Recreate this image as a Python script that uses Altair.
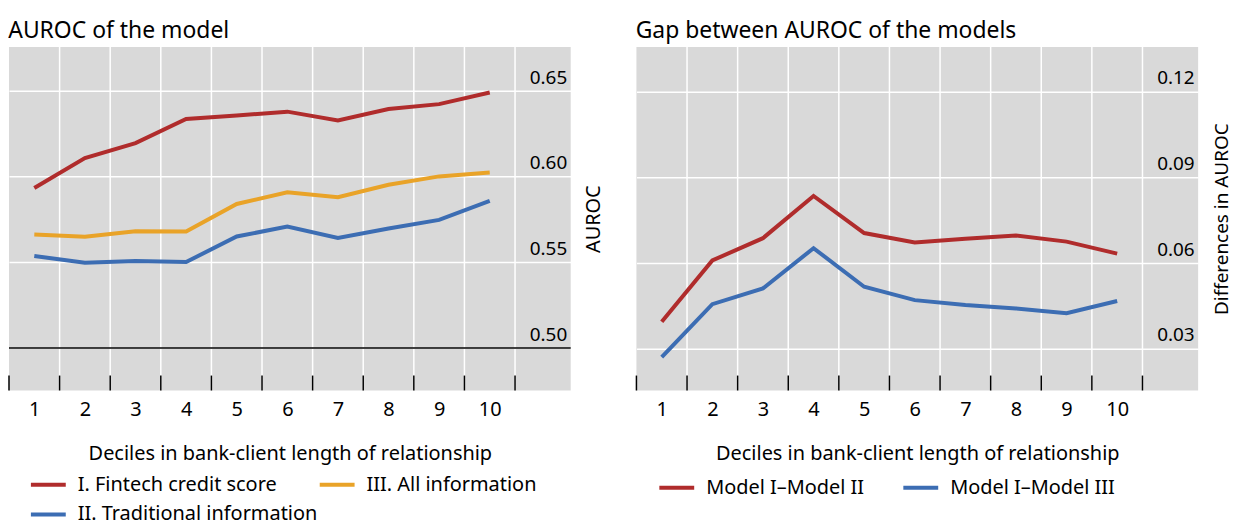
import altair as alt
import pandas as pd

deciles = list(range(1, 11))
fintech = [0.5934, 0.6109, 0.6196, 0.6337, 0.6357, 0.6380, 0.6329, 0.6395, 0.6424, 0.6492]
allinfo = [0.5663, 0.5649, 0.5682, 0.5680, 0.5841, 0.5909, 0.5880, 0.5953, 0.6002, 0.6025]
traditional = [0.5537, 0.5498, 0.5508, 0.5502, 0.5651, 0.5709, 0.5643, 0.5698, 0.5748, 0.5859]
gap_m2 = [0.0394, 0.0609, 0.0687, 0.0835, 0.0705, 0.0672, 0.0685, 0.0696, 0.0675, 0.0633]
gap_m3 = [0.0270, 0.0456, 0.0511, 0.0652, 0.0517, 0.0470, 0.0453, 0.0441, 0.0424, 0.0467]
left_ticks = [0.50, 0.55, 0.60, 0.65]
right_ticks = [0.03, 0.06, 0.09, 0.12]
left_series = ["I. Fintech credit score", "II. Traditional information", "III. All information"]
right_series = ["Model I\u2013Model II", "Model I\u2013Model III"]
x_title = "Deciles in bank-client length of relationship"

RED, YEL, BLUE, GREY = "#B02C2C", "#E9A328", "#3C6DB3", "#D9D9D9"
FONT = "Noto Sans"
W, H = 564, 345

left_df = pd.DataFrame({
    "decile": deciles * 3,
    "value": fintech + traditional + allinfo,
    "series": [left_series[0]] * 10 + [left_series[1]] * 10 + [left_series[2]] * 10,
})
right_df = pd.DataFrame({
    "decile": deciles * 2,
    "value": gap_m2 + gap_m3,
    "series": [right_series[0]] * 10 + [right_series[1]] * 10,
})
bounds = [0.5] + [d + 0.5 for d in deciles]
bounds_df = pd.DataFrame({"decile": bounds})
grid_df = pd.DataFrame({"decile": bounds[1:]})

xscale = alt.Scale(domain=[0.5, 11.6], nice=False, zero=False)


def panel(df, order, colors, ydomain, yticks, ytitle, ytitle_size, title, leg_x, leg_y, col_pad,
          baseline=None):
    x_enc = alt.X(
        "decile:Q", scale=xscale,
        axis=alt.Axis(values=deciles, title=x_title, grid=False, ticks=False, domain=False,
                      labelPadding=9, labelFontSize=20, labelFlush=False, labelColor="black",
                      titleFontSize=20, titleFontWeight="normal", titleColor="black",
                      titleY=63, titleBaseline="middle"),
    )
    y_enc = alt.Y(
        "value:Q", scale=alt.Scale(domain=ydomain, nice=False, zero=False),
        axis=alt.Axis(orient="right", values=yticks, format=".2f", grid=True, gridColor="white",
                      gridWidth=1.5, domain=False, ticks=False, labelAlign="right", labelPadding=-4,
                      labelBaseline="bottom", labelOffset=-4, labelFontSize=19, labelColor="black",
                      title=ytitle, titleAngle=270, titleFontWeight="normal",
                      titleFontSize=ytitle_size, titleColor="black", titleX=23, titleY=H / 2,
                      titleAlign="center", titleBaseline="middle"),
    )
    vgrid = alt.Chart(grid_df).mark_rule(color="white", strokeWidth=1.5).encode(x=x_enc)
    ticks = alt.Chart(bounds_df).mark_rule(color="black", strokeWidth=1.5).encode(
        x=x_enc, y=alt.value(H - 15), y2=alt.value(H))
    lines = alt.Chart(df).mark_line(strokeWidth=4).encode(
        x=x_enc, y=y_enc,
        color=alt.Color("series:N", scale=alt.Scale(domain=order, range=colors),
                        legend=alt.Legend(title=None, orient="none", legendX=leg_x, legendY=leg_y,
                                          columns=2, columnPadding=col_pad, rowPadding=-3,
                                          symbolType="stroke", symbolSize=1225, symbolStrokeWidth=4,
                                          labelFontSize=20, labelOffset=10, labelColor="black",
                                          labelFont=FONT, labelLimit=400)),
        order=alt.Order("decile:Q"),
    )
    layers = [vgrid]
    if baseline is not None:
        base = alt.Chart(pd.DataFrame({"value": [baseline]})).mark_rule(
            color="black", strokeWidth=1.5).encode(y=y_enc)
        layers.append(base)
    layers += [ticks, lines]
    return alt.layer(*layers).properties(
        width=W, height=H,
        title=alt.TitleParams(title, anchor="start", fontSize=23, fontWeight="normal",
                              font=FONT, color="black", offset=3),
    )


left = panel(left_df, left_series, [RED, BLUE, YEL], [0.4752, 0.6758], left_ticks, "AUROC", 20,
             "AUROC of the model", 20, 420, -9, baseline=0.5)
right = panel(right_df, right_series, [RED, BLUE], [0.01535, 0.1357], right_ticks,
              "Differences in AUROC", 19, "Gap between AUROC of the models", 21, 423, 31)

chart = alt.hconcat(left, right, spacing=32).resolve_scale(color="independent").properties(
    padding={"left": 0, "top": 11, "right": 0, "bottom": 0}
).configure(font=FONT).configure_view(fill=GREY, strokeWidth=0)

chart.save("out.html", embed_options={"renderer": "svg", "actions": False})
